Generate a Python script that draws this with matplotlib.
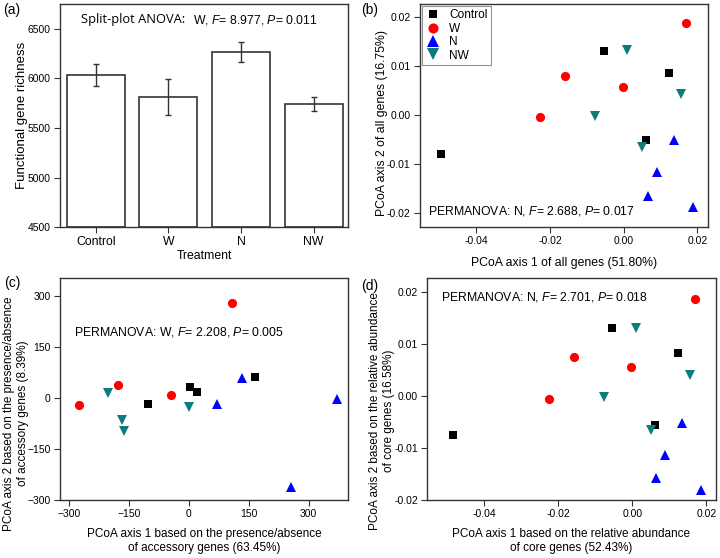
import numpy as np
import matplotlib.pyplot as plt

plt.rcParams['font.family'] = ['Liberation Sans', 'DejaVu Sans']
plt.rcParams['mathtext.fontset'] = 'custom'
plt.rcParams['mathtext.it'] = 'Liberation Sans:italic'
plt.rcParams['mathtext.rm'] = 'Liberation Sans'

# (a) functional gene richness
treatments = ['Control', 'W', 'N', 'NW']
richness = [6035, 5810, 6265, 5738]
richness_err = [110, 180, 105, 72]

# (b) PCoA of all genes
b_x = {'Control': [-0.0495, -0.0054, 0.0123, 0.0061],
       'W': [0.0168, -0.0160, -0.0001, -0.0227],
       'N': [0.0137, 0.0090, 0.0067, 0.0189],
       'NW': [0.0009, 0.0155, -0.0079, 0.0050]}
b_y = {'Control': [-0.0079, 0.0130, 0.0085, -0.0051],
       'W': [0.0189, 0.0079, 0.0058, -0.0004],
       'N': [-0.0052, -0.0117, -0.0166, -0.0188],
       'NW': [0.0133, 0.0042, -0.0001, -0.0066]}

# (c) PCoA presence/absence of accessory genes
c_x = {'Control': [-102, 2, 20, 166],
       'W': [-275, -177, -44, 108],
       'N': [72, 133, 257, 371],
       'NW': [-202, -167, -161, 0]}
c_y = {'Control': [-18, 32, 17, 63],
       'W': [-22, 38, 10, 278],
       'N': [-17, 59, -261, -3],
       'NW': [15, -66, -98, -26]}

# (d) PCoA relative abundance of core genes
d_x = {'Control': [-0.0486, -0.0054, 0.0123, 0.0060],
       'W': [0.0170, -0.0157, -0.0003, -0.0225],
       'N': [0.0134, 0.0089, 0.0065, 0.0186],
       'NW': [0.0009, 0.0155, -0.0076, 0.0049]}
d_y = {'Control': [-0.0074, 0.0131, 0.0084, -0.0056],
       'W': [0.0187, 0.0075, 0.0056, -0.0005],
       'N': [-0.0051, -0.0114, -0.0158, -0.0181],
       'NW': [0.0132, 0.0040, -0.0002, -0.0065]}

styles = {'Control': dict(marker='s', color='black', ms=5.4),
          'W': dict(marker='o', color='#ff0000', ms=6.6),
          'N': dict(marker='^', color='#0000ff', ms=7.6),
          'NW': dict(marker='v', color='#0e7b7b', ms=7.6)}

frame_col = '#333333'
lab_fs = 8.8


def style_axes(ax):
    for side in ['left', 'bottom', 'right', 'top']:
        ax.spines[side].set_color(frame_col)
        ax.spines[side].set_linewidth(1.0)
    ax.tick_params(direction='out', length=4, width=0.8, labelsize=7.5, pad=2.5,
                   colors=frame_col, labelcolor='black', top=False, right=False)


def draw_scatter(ax, xs, ys):
    for g in treatments:
        st = styles[g]
        ax.plot(xs[g], ys[g], linestyle='none', marker=st['marker'], color=st['color'],
                markersize=st['ms'], markeredgewidth=0, label=g)


fig = plt.figure(figsize=(7.2, 5.58), dpi=100)

# (a)
ax = fig.add_axes([0.083, 0.593, 0.401, 0.400])
pos = np.arange(len(treatments))
ax.bar(pos, np.array(richness) - 4500, bottom=4500, width=0.8, color='white',
       edgecolor=frame_col, linewidth=1.2)
ax.errorbar(pos, richness, yerr=richness_err, fmt='none', ecolor=frame_col,
            elinewidth=1.0, capsize=2.2, capthick=1.0)
ax.set_xlim(-0.495, 3.48)
ax.set_ylim(4500, 6750)
ax.set_yticks([4500, 5000, 5500, 6000, 6500])
ax.set_xticks(pos)
ax.set_xticklabels(treatments)
style_axes(ax)
ax.tick_params(axis='x', labelsize=lab_fs)
ax.set_xlabel('Treatment', fontsize=lab_fs, labelpad=1)
ax.set_ylabel('Functional gene richness', fontsize=9.5, labelpad=0)
ax.text(0.073, 0.93, 'Split-plot ANOVA:', transform=ax.transAxes, fontsize=9.3,
        family='Open Sans', va='center')
ax.text(0.462, 0.93, 'W, $F$= 8.977, $P$= 0.011', transform=ax.transAxes, fontsize=lab_fs,
        va='center')

# (b)
ax = fig.add_axes([0.583, 0.593, 0.401, 0.400])
draw_scatter(ax, b_x, b_y)
ax.set_xlim(-0.0554, 0.0230)
ax.set_ylim(-0.0229, 0.0227)
ax.set_xticks([-0.04, -0.02, 0.00, 0.02])
ax.set_xticklabels(['-0.04', '-0.02', '0.00', '0.02'])
ax.set_yticks([-0.02, -0.01, 0.00, 0.01, 0.02])
ax.set_yticklabels(['-0.02', '-0.01', '0.00', '0.01', '0.02'])
style_axes(ax)
ax.set_xlabel('PCoA axis 1 of all genes (51.80%)', fontsize=lab_fs, labelpad=8)
ax.set_ylabel('PCoA axis 2 of all genes (16.75%)', fontsize=lab_fs, labelpad=-1)
ax.yaxis.label.set_y(0.466)
ax.text(0.03, 0.072, 'PERMANOVA: N, $F$= 2.688, $P$= 0.017', transform=ax.transAxes,
        fontsize=lab_fs, va='center')
leg = ax.legend(loc='upper left', fontsize=8.6, frameon=True, fancybox=False,
                borderaxespad=0.15, handletextpad=0.7, labelspacing=0.12,
                borderpad=0.3, handlelength=1.3, markerscale=1.1)
leg.get_frame().set_edgecolor('#777777')
leg.get_frame().set_linewidth(0.8)

# (c)
ax = fig.add_axes([0.083, 0.104, 0.401, 0.398])
draw_scatter(ax, c_x, c_y)
ax.set_xlim(-323, 400)
ax.set_ylim(-300, 353)
ax.set_xticks([-300, -150, 0, 150, 300])
ax.set_yticks([-300, -150, 0, 150, 300])
style_axes(ax)
ax.set_xlabel('PCoA axis 1 based on the presence/absence\nof accessory genes (63.45%)',
              fontsize=8.5, labelpad=6.5)
ax.set_ylabel('PCoA axis 2 based on the presence/absence\nof accessory genes (8.39%)',
              fontsize=8.5, labelpad=-1.2)
ax.yaxis.label.set_y(0.39)
ax.text(0.05, 0.757, 'PERMANOVA: W, $F$= 2.208, $P$= 0.005', transform=ax.transAxes,
        fontsize=lab_fs, va='center')

# (d)
ax = fig.add_axes([0.593, 0.104, 0.401, 0.398])
draw_scatter(ax, d_x, d_y)
ax.set_xlim(-0.0555, 0.0225)
ax.set_ylim(-0.0200, 0.0228)
ax.set_xticks([-0.04, -0.02, 0.00, 0.02])
ax.set_xticklabels(['-0.04', '-0.02', '0.00', '0.02'])
ax.set_yticks([-0.02, -0.01, 0.00, 0.01, 0.02])
ax.set_yticklabels(['-0.02', '-0.01', '0.00', '0.01', '0.02'])
style_axes(ax)
ax.set_xlabel('PCoA axis 1 based on the relative abundance\nof core genes (52.43%)',
              fontsize=8.5, labelpad=6.5)
ax.set_ylabel('PCoA axis 2 based on the relative abundance\nof core genes (16.58%)',
              fontsize=8.5, labelpad=-0.5)
ax.yaxis.label.set_y(0.40)
ax.text(0.05, 0.914, 'PERMANOVA: N, $F$= 2.701, $P$= 0.018', transform=ax.transAxes,
        fontsize=lab_fs, va='center')

# panel letters
fig.text(0.004, 0.982, '(a)', fontsize=10, va='center')
fig.text(0.502, 0.982, '(b)', fontsize=10, va='center')
fig.text(0.006, 0.493, '(c)', fontsize=10, va='center')
fig.text(0.502, 0.488, '(d)', fontsize=10, va='center')

plt.savefig('out.png', dpi=100)
plt.close('all')
